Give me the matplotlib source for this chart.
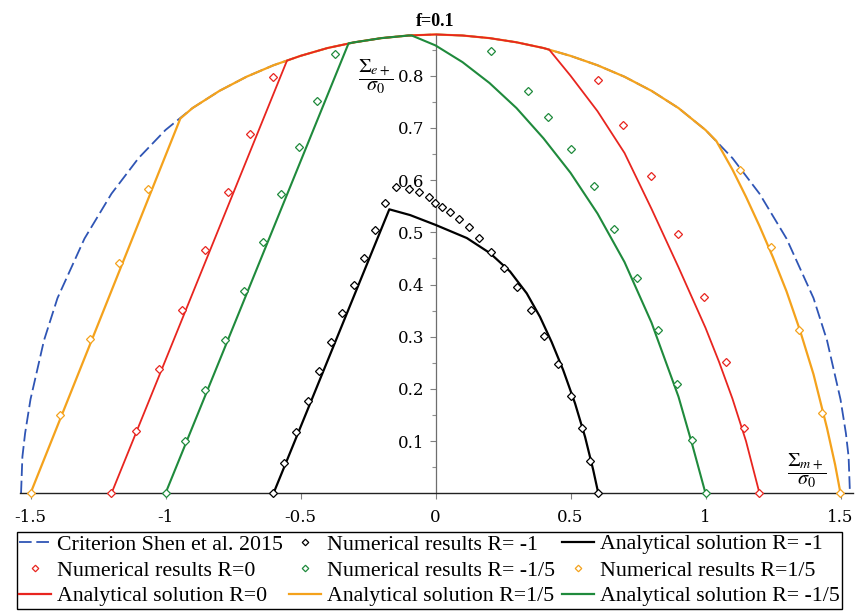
import numpy as np
import matplotlib
matplotlib.use("Agg")
import matplotlib.pyplot as plt
from matplotlib.lines import Line2D

# ---------------- data ----------------
title_text = "f=0.1"
x_ticks = [-1.5, -1.0, -0.5, 0.0, 0.5, 1.0, 1.5]
x_tick_labels = ["-1.5", "-1", "-0.5", "0", "0.5", "1", "1.5"]
y_ticks = [0.1, 0.2, 0.3, 0.4, 0.5, 0.6, 0.7, 0.8]
y_tick_labels = ["0.1", "0.2", "0.3", "0.4", "0.5", "0.6", "0.7", "0.8"]
y_minor_ticks = [0.05, 0.15, 0.25, 0.35, 0.45, 0.55, 0.65, 0.75, 0.85]

# Criterion Shen et al. 2015
shen_x = [-1.535, -1.53, -1.52, -1.5, -1.45, -1.4, -1.3, -1.2, -1.1, -1.0,
          -0.9, -0.8, -0.7, -0.6, -0.5, -0.4, -0.3, -0.2, -0.1, 0.0,
          0.1, 0.2, 0.3, 0.4, 0.5, 0.6, 0.7, 0.8, 0.9, 1.0,
          1.1, 1.2, 1.3, 1.4, 1.45, 1.5, 1.52, 1.53, 1.535]
shen_y = [0.0, 0.070, 0.115, 0.180, 0.293, 0.374, 0.488, 0.574, 0.642, 0.696,
          0.738, 0.771, 0.798, 0.820, 0.838, 0.853, 0.864, 0.872, 0.877, 0.879,
          0.877, 0.872, 0.864, 0.853, 0.838, 0.820, 0.798, 0.771, 0.738, 0.696,
          0.642, 0.574, 0.488, 0.374, 0.293, 0.180, 0.115, 0.070, 0.0]

# Analytical solution R=1/5 (orange): left branch, envelope, right branch
ana_p15_left_x = [-1.5, -0.945]
ana_p15_left_y = [0.0, 0.718]
ana_p15_right_x = [1.040, 1.10, 1.15, 1.20, 1.25, 1.30, 1.35, 1.40, 1.45, 1.48, 1.50]
ana_p15_right_y = [0.675, 0.620, 0.568, 0.512, 0.452, 0.387, 0.312, 0.228, 0.125, 0.055, 0.0]

# Analytical solution R=0 (red)
ana_0_left_x = [-1.2, -0.55]
ana_0_left_y = [0.0, 0.829]
ana_0_right_x = [0.421, 0.5, 0.6, 0.7, 0.8, 0.9, 1.0, 1.05, 1.1, 1.15, 1.2]
ana_0_right_y = [0.850, 0.800, 0.732, 0.652, 0.545, 0.433, 0.317, 0.252, 0.181, 0.100, 0.0]

# Analytical solution R=-1/5 (green)
ana_m15_left_x = [-1.0, -0.322]
ana_m15_left_y = [0.0, 0.862]
ana_m15_right_x = [-0.088, 0.0, 0.1, 0.2, 0.3, 0.4, 0.5, 0.6, 0.7, 0.8, 0.9, 0.95, 1.0]
ana_m15_right_y = [0.877, 0.858, 0.826, 0.786, 0.738, 0.680, 0.614, 0.536, 0.443, 0.327, 0.185, 0.095, 0.0]

# Analytical solution R=-1 (black)
ana_m1_x = [-0.6, -0.171, -0.094, 0.001, 0.116, 0.202, 0.276, 0.338, 0.387, 0.430,
            0.473, 0.517, 0.554, 0.584, 0.603]
ana_m1_y = [0.0, 0.544, 0.533, 0.514, 0.489, 0.460, 0.425, 0.383, 0.338, 0.290,
            0.236, 0.172, 0.108, 0.045, 0.0]

# Numerical results
num_m1_x = [-0.603, -0.560, -0.517, -0.473, -0.430, -0.387, -0.345, -0.303, -0.264, -0.223,
            -0.186, -0.146, -0.099, -0.061, -0.025, -0.001, 0.023, 0.054, 0.087, 0.123,
            0.162, 0.204, 0.253, 0.300, 0.352, 0.401, 0.455, 0.501, 0.544, 0.573, 0.601]
num_m1_y = [0.000, 0.059, 0.118, 0.177, 0.234, 0.290, 0.345, 0.400, 0.451, 0.504,
            0.557, 0.587, 0.582, 0.577, 0.568, 0.557, 0.549, 0.539, 0.525, 0.510,
            0.489, 0.463, 0.432, 0.396, 0.351, 0.302, 0.248, 0.187, 0.126, 0.061, 0.000]

num_0_x = [-1.201, -1.111, -1.024, -0.939, -0.853, -0.768, -0.687, -0.603,
           0.601, 0.693, 0.798, 0.899, 0.993, 1.076, 1.144, 1.198]
num_0_y = [0.000, 0.119, 0.238, 0.352, 0.466, 0.578, 0.689, 0.797,
           0.792, 0.706, 0.607, 0.496, 0.376, 0.251, 0.125, 0.000]

num_m15_x = [-1.0, -0.926, -0.855, -0.781, -0.709, -0.640, -0.572, -0.505, -0.439, -0.374,
             0.204, 0.341, 0.418, 0.502, 0.587, 0.661, 0.746, 0.824, 0.893, 0.950, 1.0]
num_m15_y = [0.000, 0.100, 0.198, 0.294, 0.388, 0.481, 0.573, 0.663, 0.752, 0.841,
             0.847, 0.771, 0.720, 0.660, 0.588, 0.506, 0.413, 0.313, 0.209, 0.103, 0.000]

num_p15_x = [-1.500, -1.390, -1.280, -1.172, -1.066,
             1.126, 1.243, 1.348, 1.432, 1.498]
num_p15_y = [0.000, 0.150, 0.296, 0.441, 0.583,
             0.619, 0.471, 0.313, 0.154, 0.000]

# ---------------- styling ----------------
C_BLUE = "#2f55b5"
C_RED = "#e8251f"
C_ORANGE = "#f4a21c"
C_GREEN = "#1f8a3c"
C_BLACK = "#000000"

plt.rcParams['font.family'] = ['DejaVu Serif']
plt.rcParams['mathtext.fontset'] = 'stix'
plt.rcParams['axes.unicode_minus'] = False

W, H = 857, 613
fig = plt.figure(figsize=(W / 100, H / 100), dpi=100)
xlim = (-1.54, 1.545)
ylim = (0.0, 0.878)
sx, sy = 270.0, 522.0          # pixels per data unit
x0px, y0px = 435.5, 493.3      # pixel location of the data origin
ax = fig.add_axes([(x0px + xlim[0] * sx) / W, (H - y0px) / H,
                   (xlim[1] - xlim[0]) * sx / W, (ylim[1] - ylim[0]) * sy / H])
ax.set_xlim(*xlim)
ax.set_ylim(*ylim)
ax.patch.set_alpha(0)


def with_envelope(lx, ly, rx, ry):
    sxa = np.asarray(shen_x)
    sya = np.asarray(shen_y)
    m = (sxa > lx[-1] + 1e-6) & (sxa < rx[0] - 1e-6)
    xs = np.concatenate([lx, sxa[m], rx])
    ys = np.concatenate([ly, sya[m], ry])
    return xs, ys


lw_c = 1.3
ax.plot(shen_x, shen_y, color=C_BLUE, lw=1.3, ls=(0, (7, 2.6)), zorder=1, clip_on=False)
xo, yo = with_envelope(ana_p15_left_x, ana_p15_left_y, ana_p15_right_x, ana_p15_right_y)
ax.plot(xo, yo, color=C_ORANGE, lw=lw_c + 0.3, zorder=2, clip_on=False)
xr, yr = with_envelope(ana_0_left_x, ana_0_left_y, ana_0_right_x, ana_0_right_y)
ax.plot(xr, yr, color=C_RED, lw=lw_c, zorder=3, clip_on=False)
xg, yg = with_envelope(ana_m15_left_x, ana_m15_left_y, ana_m15_right_x, ana_m15_right_y)
ax.plot(xg, yg, color=C_GREEN, lw=lw_c + 0.2, zorder=4, clip_on=False)
ax.plot(ana_m1_x, ana_m1_y, color=C_BLACK, lw=1.6, zorder=5, clip_on=False)

mk = dict(marker='D', ms=4.0, mfc='white', mew=0.9, ls='none', zorder=6, clip_on=False)
ax.plot(num_m1_x, num_m1_y, mec=C_BLACK, **mk)
ax.plot(num_0_x, num_0_y, mec=C_RED, **mk)
ax.plot(num_m15_x, num_m15_y, mec=C_GREEN, **mk)
ax.plot(num_p15_x, num_p15_y, mec=C_ORANGE, **mk)

# axes appearance
for s in ('top', 'right'):
    ax.spines[s].set_visible(False)
ax.spines['left'].set_position(('data', 0))
ax.spines['left'].set_color('#6e6e6e')
ax.spines['left'].set_linewidth(0.9)
ax.spines['bottom'].set_color('#222222')
ax.spines['bottom'].set_linewidth(1.0)

ax.set_xticks(x_ticks)
ax.set_xticklabels(x_tick_labels)
ax.set_yticks(y_ticks)
ax.set_yticklabels(y_tick_labels)
ax.set_yticks(y_minor_ticks, minor=True)
ax.tick_params(axis='x', direction='out', length=4.3, width=0.8, color='#808080',
               pad=7.0, labelsize=12)
ax.tick_params(axis='y', which='major', direction='out', length=4.3, width=0.8,
               color='#808080', pad=3.5, labelsize=12)
ax.tick_params(axis='y', which='minor', direction='out', length=2.9, width=0.8,
               color='#909090')

# title and axis labels
fig.text(x0px / W, 1 - 21 / H, title_text, ha='center', va='center',
         fontsize=13, fontweight='bold', family='Liberation Serif')
fig.text(376 / W, 1 - 77 / H, r'$\dfrac{\Sigma_{e+}}{\sigma_0}$', ha='center',
         va='center', fontsize=14.5)
fig.text(807 / W, 1 - 471 / H, r'$\dfrac{\Sigma_{m+}}{\sigma_0}$', ha='center',
         va='center', fontsize=14.5)

# legend (column-major order for a 3-column legend)
def lh(color, ls='-', lw=1.6):
    return Line2D([], [], color=color, ls=ls, lw=lw)


def mh(color):
    return Line2D([], [], marker='D', ms=3.3, mfc='white', mec=color, mew=0.9, ls='none')


handles = [lh(C_BLUE, ls=(0, (7, 2.6)), lw=1.3), mh(C_RED), lh(C_RED),
           mh(C_BLACK), mh(C_GREEN), lh(C_ORANGE),
           lh(C_BLACK), mh(C_ORANGE), lh(C_GREEN)]
labels = ["Criterion Shen et al. 2015", "Numerical results R=0", "Analytical solution R=0",
          "Numerical results R= -1", "Numerical results R= -1/5", "Analytical solution R=1/5",
          "Analytical solution R= -1", "Numerical results R=1/5", "Analytical solution R= -1/5"]
leg = fig.legend(handles, labels, ncol=3, loc='upper left',
                 bbox_to_anchor=(17 / W, 1 - 532 / H), bbox_transform=fig.transFigure,
                 prop={'family': 'Liberation Serif', 'size': 15.75},
                 frameon=True, fancybox=False, framealpha=1, edgecolor='black',
                 borderpad=0.1, labelspacing=0.26, handlelength=1.45,
                 handletextpad=0.28, columnspacing=0.3, borderaxespad=0)
leg.get_frame().set_linewidth(1.0)

fig.savefig("out.png", dpi=100)
